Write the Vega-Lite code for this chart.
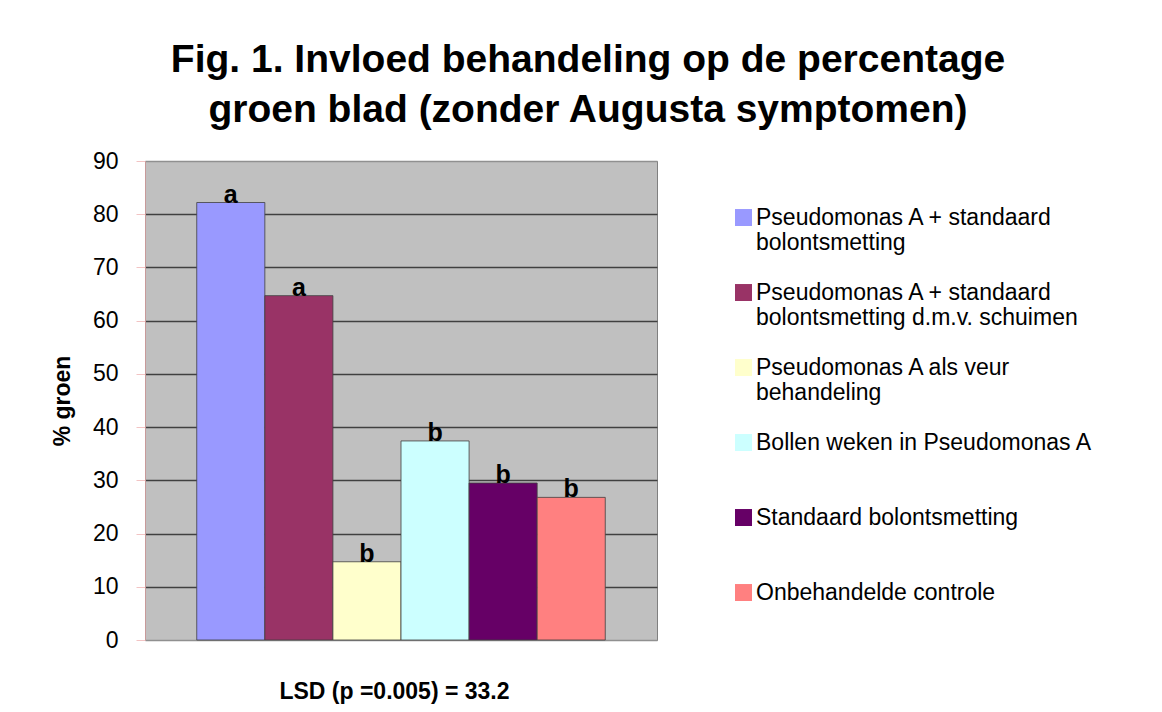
{
  "$schema": "https://vega.github.io/schema/vega-lite/v6.json",
  "width": 512,
  "height": 479,
  "autosize": {"type": "none"},
  "padding": {"left": 145, "top": 161, "right": 505, "bottom": 72},
  "background": "white",
  "title": {
    "text": ["Fig. 1. Invloed behandeling op de percentage", "groen blad (zonder Augusta symptomen)"],
    "font": "Liberation Sans",
    "fontSize": 39,
    "fontWeight": "bold",
    "color": "black",
    "anchor": "middle",
    "frame": "group",
    "dx": 187,
    "dy": 50,
    "lineHeight": 50,
    "baseline": "bottom",
    "offset": 31
  },
  "data": {
    "values": [
      {"treatment": "Pseudomonas A + standaard bolontsmetting", "groen": 82.2, "letter": "a"},
      {"treatment": "Pseudomonas A + standaard bolontsmetting d.m.v. schuimen", "groen": 64.7, "letter": "a"},
      {"treatment": "Pseudomonas A als veur behandeling", "groen": 14.7, "letter": "b"},
      {"treatment": "Bollen weken in Pseudomonas A", "groen": 37.4, "letter": "b"},
      {"treatment": "Standaard bolontsmetting", "groen": 29.5, "letter": "b"},
      {"treatment": "Onbehandelde controle", "groen": 26.8, "letter": "b"}
    ]
  },
  "encoding": {
    "x": {
      "field": "treatment",
      "type": "nominal",
      "sort": null,
      "scale": {
        "domain": [
          "Pseudomonas A + standaard bolontsmetting",
          "Pseudomonas A + standaard bolontsmetting d.m.v. schuimen",
          "Pseudomonas A als veur behandeling",
          "Bollen weken in Pseudomonas A",
          "Standaard bolontsmetting",
          "Onbehandelde controle"
        ],
        "paddingInner": 0,
        "paddingOuter": 0.76
      },
      "axis": {
        "title": "LSD (p =0.005) = 33.2",
        "labels": false,
        "ticks": false,
        "domain": false,
        "grid": false,
        "titleFont": "Liberation Sans",
        "titleFontSize": 23,
        "titleFontWeight": "bold",
        "titleColor": "black",
        "titlePadding": 40,
        "titleX": 249
      }
    },
    "y": {
      "field": "groen",
      "type": "quantitative",
      "scale": {"domain": [0, 90], "nice": false},
      "axis": {
        "title": "% groen",
        "values": [0, 10, 20, 30, 40, 50, 60, 70, 80, 90],
        "labelFont": "Liberation Sans",
        "labelFontSize": 23,
        "labelColor": "black",
        "labelPadding": 18,
        "tickSize": 9,
        "tickColor": "#f2c4c4",
        "domainColor": "#c89a9a",
        "grid": true,
        "gridColor": {"condition": {"test": "datum.value == 0 || datum.value == 90", "value": "#909090"}, "value": "#404040"},
        "gridWidth": 1.5,
        "titleFont": "Liberation Sans",
        "titleFontSize": 23,
        "titleFontWeight": "bold",
        "titleColor": "black",
        "titlePadding": 18
      }
    }
  },
  "layer": [
    {
      "mark": {"type": "bar", "stroke": "#404040", "strokeWidth": 0.8},
      "encoding": {
        "color": {
          "field": "treatment",
          "type": "nominal",
          "sort": null,
          "scale": {
            "domain": [
              "Pseudomonas A + standaard bolontsmetting",
              "Pseudomonas A + standaard bolontsmetting d.m.v. schuimen",
              "Pseudomonas A als veur behandeling",
              "Bollen weken in Pseudomonas A",
              "Standaard bolontsmetting",
              "Onbehandelde controle"
            ],
            "range": ["#9999FF", "#993366", "#FFFFCC", "#CCFFFF", "#660066", "#FF8080"]
          },
          "legend": {
            "title": null,
            "orient": "none",
            "legendX": 587,
            "legendY": 52,
            "padding": 0,
            "symbolType": "M-1,-1.82H1V0.18H-1Z",
            "symbolSize": 289,
            "symbolStrokeWidth": 0,
            "labelFont": "Liberation Sans",
            "labelFontSize": 23,
            "labelColor": "black",
            "labelLimit": 420,
            "labelOffset": 1,
            "labelBaseline": "alphabetic",
            "labelLineHeight": 27,
            "rowPadding": 26,
            "labelExpr": "datum.label == 'Pseudomonas A + standaard bolontsmetting' ? ['Pseudomonas A + standaard', 'bolontsmetting'] : datum.label == 'Pseudomonas A + standaard bolontsmetting d.m.v. schuimen' ? ['Pseudomonas A + standaard', 'bolontsmetting d.m.v. schuimen'] : datum.label == 'Pseudomonas A als veur behandeling' ? ['Pseudomonas A als veur', 'behandeling'] : [datum.label, '']"
          }
        }
      }
    },
    {
      "mark": {"type": "text", "baseline": "alphabetic", "font": "Liberation Sans", "fontSize": 25, "fontWeight": "bold", "color": "black", "dy": 0},
      "encoding": {"text": {"field": "letter"}}
    }
  ],
  "config": {
    "view": {"fill": "#C0C0C0", "stroke": "#808080", "strokeWidth": 1}
  }
}
